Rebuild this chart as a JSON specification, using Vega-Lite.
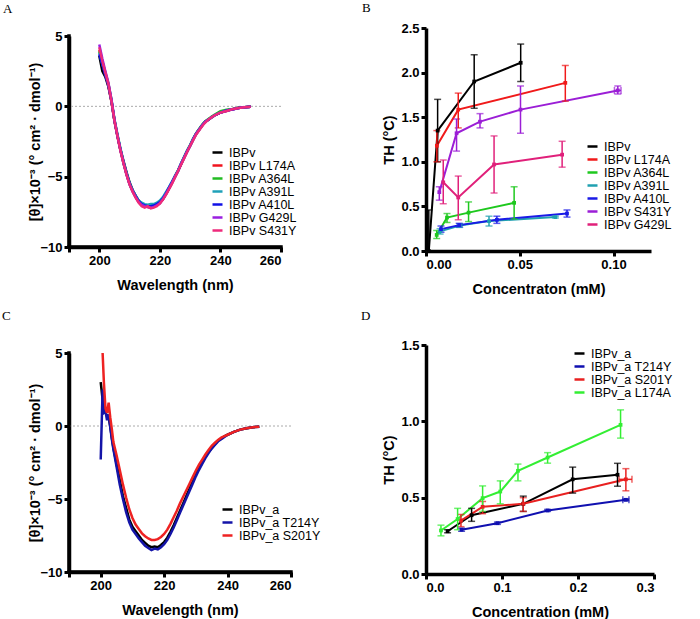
{
"$schema": "https://vega.github.io/schema/vega-lite/v6.json",
"padding": {"left": 2, "top": 2, "right": 0, "bottom": 0},
"config": {
 "view": {"stroke": null},
 "axis": {"domainColor": "black", "domainWidth": 3.5, "tickColor": "black", "tickWidth": 3, "tickSize": 5, "labelFont": "Liberation Sans", "labelFontWeight": "bold", "labelFontSize": 13, "labelColor": "#000", "titleFont": "Liberation Sans", "titleFontWeight": "bold", "titleFontSize": 14.5, "titleColor": "#000", "grid": false, "labelPadding": 2, "titlePadding": 4},
 "axisX": {"titlePadding": 11},
 "legend": {"labelFont": "Liberation Sans", "labelFontSize": 12.5, "labelColor": "#000", "padding": 0, "symbolType": "stroke", "symbolStrokeWidth": 2.5, "symbolSize": 100, "rowPadding": 0, "labelOffset": 5, "title": null},
 "title": {"font": "Liberation Serif", "fontSize": 13, "fontWeight": "normal", "anchor": "start", "frame": "group", "baseline": "alphabetic", "color": "#000"}
},
"datasets": {
 "A": [
  {"w":200,"IBPv":3.6,"IBPv L174A":4.0,"IBPv A364L":3.9,"IBPv A391L":3.8,"IBPv A410L":3.7,"IBPv G429L":4.4,"IBPv S431Y":4.2},
  {"w":201,"IBPv":2.5,"IBPv L174A":3.1,"IBPv A364L":3.2,"IBPv A391L":3.0,"IBPv A410L":3.0,"IBPv G429L":3.4,"IBPv S431Y":3.2},
  {"w":202,"IBPv":2.1,"IBPv L174A":2.3,"IBPv A364L":2.4,"IBPv A391L":2.3,"IBPv A410L":2.2,"IBPv G429L":2.5,"IBPv S431Y":2.4},
  {"w":203,"IBPv":1.4,"IBPv L174A":1.5,"IBPv A364L":1.6,"IBPv A391L":1.6,"IBPv A410L":1.5,"IBPv G429L":1.7,"IBPv S431Y":1.6},
  {"w":204,"IBPv":0.4,"IBPv L174A":0.35,"IBPv A364L":0.45,"IBPv A391L":0.5,"IBPv A410L":0.4,"IBPv G429L":0.5,"IBPv S431Y":0.4},
  {"w":205,"IBPv":-1.0,"IBPv L174A":-1.05,"IBPv A364L":-0.95,"IBPv A391L":-0.9,"IBPv A410L":-1.0,"IBPv G429L":-0.95,"IBPv S431Y":-1.0},
  {"w":206,"IBPv":-2.1,"IBPv L174A":-2.15,"IBPv A364L":-2.05,"IBPv A391L":-2.0,"IBPv A410L":-2.1,"IBPv G429L":-2.1,"IBPv S431Y":-2.1},
  {"w":207,"IBPv":-3.1,"IBPv L174A":-3.15,"IBPv A364L":-3.05,"IBPv A391L":-3.0,"IBPv A410L":-3.1,"IBPv G429L":-3.1,"IBPv S431Y":-3.15},
  {"w":208,"IBPv":-3.9,"IBPv L174A":-4.05,"IBPv A364L":-4.0,"IBPv A391L":-3.95,"IBPv A410L":-4.0,"IBPv G429L":-4.05,"IBPv S431Y":-4.05},
  {"w":209,"IBPv":-4.7,"IBPv L174A":-4.85,"IBPv A364L":-4.8,"IBPv A391L":-4.75,"IBPv A410L":-4.8,"IBPv G429L":-4.85,"IBPv S431Y":-4.85},
  {"w":210,"IBPv":-5.4,"IBPv L174A":-5.55,"IBPv A364L":-5.5,"IBPv A391L":-5.45,"IBPv A410L":-5.5,"IBPv G429L":-5.55,"IBPv S431Y":-5.55},
  {"w":211,"IBPv":-5.95,"IBPv L174A":-6.05,"IBPv A364L":-6.0,"IBPv A391L":-5.95,"IBPv A410L":-6.0,"IBPv G429L":-6.05,"IBPv S431Y":-6.05},
  {"w":212,"IBPv":-6.35,"IBPv L174A":-6.45,"IBPv A364L":-6.4,"IBPv A391L":-6.35,"IBPv A410L":-6.4,"IBPv G429L":-6.45,"IBPv S431Y":-6.5},
  {"w":213,"IBPv":-6.7,"IBPv L174A":-6.8,"IBPv A364L":-6.75,"IBPv A391L":-6.7,"IBPv A410L":-6.75,"IBPv G429L":-6.8,"IBPv S431Y":-6.85},
  {"w":214,"IBPv":-6.95,"IBPv L174A":-7.0,"IBPv A364L":-6.95,"IBPv A391L":-6.85,"IBPv A410L":-6.95,"IBPv G429L":-7.0,"IBPv S431Y":-7.1},
  {"w":215,"IBPv":-7.05,"IBPv L174A":-7.1,"IBPv A364L":-7.05,"IBPv A391L":-6.95,"IBPv A410L":-7.05,"IBPv G429L":-7.1,"IBPv S431Y":-7.2},
  {"w":216,"IBPv":-7.1,"IBPv L174A":-7.15,"IBPv A364L":-7.1,"IBPv A391L":-7.0,"IBPv A410L":-7.1,"IBPv G429L":-7.15,"IBPv S431Y":-7.1},
  {"w":217,"IBPv":-7.15,"IBPv L174A":-7.2,"IBPv A364L":-7.15,"IBPv A391L":-6.95,"IBPv A410L":-7.1,"IBPv G429L":-7.2,"IBPv S431Y":-7.25},
  {"w":218,"IBPv":-7.1,"IBPv L174A":-7.15,"IBPv A364L":-7.1,"IBPv A391L":-6.95,"IBPv A410L":-7.05,"IBPv G429L":-7.15,"IBPv S431Y":-7.2},
  {"w":219,"IBPv":-7.0,"IBPv L174A":-7.05,"IBPv A364L":-7.0,"IBPv A391L":-6.85,"IBPv A410L":-6.95,"IBPv G429L":-7.05,"IBPv S431Y":-7.1},
  {"w":220,"IBPv":-6.85,"IBPv L174A":-6.9,"IBPv A364L":-6.85,"IBPv A391L":-6.7,"IBPv A410L":-6.8,"IBPv G429L":-6.9,"IBPv S431Y":-6.9},
  {"w":221,"IBPv":-6.6,"IBPv L174A":-6.6,"IBPv A364L":-6.55,"IBPv A391L":-6.45,"IBPv A410L":-6.55,"IBPv G429L":-6.6,"IBPv S431Y":-6.65},
  {"w":222,"IBPv":-6.25,"IBPv L174A":-6.25,"IBPv A364L":-6.2,"IBPv A391L":-6.1,"IBPv A410L":-6.2,"IBPv G429L":-6.25,"IBPv S431Y":-6.3},
  {"w":223,"IBPv":-5.85,"IBPv L174A":-5.85,"IBPv A364L":-5.8,"IBPv A391L":-5.75,"IBPv A410L":-5.8,"IBPv G429L":-5.85,"IBPv S431Y":-5.9},
  {"w":224,"IBPv":-5.45,"IBPv L174A":-5.45,"IBPv A364L":-5.4,"IBPv A391L":-5.35,"IBPv A410L":-5.4,"IBPv G429L":-5.45,"IBPv S431Y":-5.5},
  {"w":225,"IBPv":-5.0,"IBPv L174A":-5.0,"IBPv A364L":-4.95,"IBPv A391L":-4.95,"IBPv A410L":-5.0,"IBPv G429L":-5.0,"IBPv S431Y":-5.05},
  {"w":226,"IBPv":-4.6,"IBPv L174A":-4.6,"IBPv A364L":-4.55,"IBPv A391L":-4.55,"IBPv A410L":-4.6,"IBPv G429L":-4.6,"IBPv S431Y":-4.6},
  {"w":227,"IBPv":-4.1,"IBPv L174A":-4.1,"IBPv A364L":-4.1,"IBPv A391L":-4.05,"IBPv A410L":-4.1,"IBPv G429L":-4.1,"IBPv S431Y":-4.15},
  {"w":228,"IBPv":-3.65,"IBPv L174A":-3.65,"IBPv A364L":-3.6,"IBPv A391L":-3.6,"IBPv A410L":-3.65,"IBPv G429L":-3.65,"IBPv S431Y":-3.7},
  {"w":229,"IBPv":-3.2,"IBPv L174A":-3.2,"IBPv A364L":-3.15,"IBPv A391L":-3.15,"IBPv A410L":-3.2,"IBPv G429L":-3.2,"IBPv S431Y":-3.25},
  {"w":230,"IBPv":-2.8,"IBPv L174A":-2.8,"IBPv A364L":-2.75,"IBPv A391L":-2.75,"IBPv A410L":-2.8,"IBPv G429L":-2.8,"IBPv S431Y":-2.8},
  {"w":231,"IBPv":-2.35,"IBPv L174A":-2.35,"IBPv A364L":-2.3,"IBPv A391L":-2.3,"IBPv A410L":-2.35,"IBPv G429L":-2.35,"IBPv S431Y":-2.4},
  {"w":232,"IBPv":-1.95,"IBPv L174A":-1.95,"IBPv A364L":-1.9,"IBPv A391L":-1.95,"IBPv A410L":-1.95,"IBPv G429L":-1.95,"IBPv S431Y":-2.0},
  {"w":233,"IBPv":-1.65,"IBPv L174A":-1.65,"IBPv A364L":-1.6,"IBPv A391L":-1.65,"IBPv A410L":-1.65,"IBPv G429L":-1.65,"IBPv S431Y":-1.7},
  {"w":234,"IBPv":-1.35,"IBPv L174A":-1.35,"IBPv A364L":-1.3,"IBPv A391L":-1.35,"IBPv A410L":-1.35,"IBPv G429L":-1.35,"IBPv S431Y":-1.4},
  {"w":235,"IBPv":-1.1,"IBPv L174A":-1.1,"IBPv A364L":-1.05,"IBPv A391L":-1.1,"IBPv A410L":-1.1,"IBPv G429L":-1.1,"IBPv S431Y":-1.15},
  {"w":236,"IBPv":-0.95,"IBPv L174A":-0.95,"IBPv A364L":-0.9,"IBPv A391L":-0.95,"IBPv A410L":-0.95,"IBPv G429L":-0.95,"IBPv S431Y":-0.95},
  {"w":237,"IBPv":-0.8,"IBPv L174A":-0.8,"IBPv A364L":-0.75,"IBPv A391L":-0.8,"IBPv A410L":-0.8,"IBPv G429L":-0.8,"IBPv S431Y":-0.8},
  {"w":238,"IBPv":-0.65,"IBPv L174A":-0.65,"IBPv A364L":-0.6,"IBPv A391L":-0.65,"IBPv A410L":-0.65,"IBPv G429L":-0.65,"IBPv S431Y":-0.65},
  {"w":240,"IBPv":-0.45,"IBPv L174A":-0.45,"IBPv A364L":-0.35,"IBPv A391L":-0.45,"IBPv A410L":-0.45,"IBPv G429L":-0.45,"IBPv S431Y":-0.45},
  {"w":242,"IBPv":-0.3,"IBPv L174A":-0.33,"IBPv A364L":-0.25,"IBPv A391L":-0.3,"IBPv A410L":-0.3,"IBPv G429L":-0.33,"IBPv S431Y":-0.33},
  {"w":244,"IBPv":-0.2,"IBPv L174A":-0.2,"IBPv A364L":-0.18,"IBPv A391L":-0.2,"IBPv A410L":-0.22,"IBPv G429L":-0.2,"IBPv S431Y":-0.2},
  {"w":246,"IBPv":-0.1,"IBPv L174A":-0.12,"IBPv A364L":-0.1,"IBPv A391L":-0.12,"IBPv A410L":-0.12,"IBPv G429L":-0.12,"IBPv S431Y":-0.12},
  {"w":248,"IBPv":-0.07,"IBPv L174A":-0.07,"IBPv A364L":-0.06,"IBPv A391L":-0.07,"IBPv A410L":-0.07,"IBPv G429L":-0.07,"IBPv S431Y":-0.07},
  {"w":250,"IBPv":-0.03,"IBPv L174A":-0.03,"IBPv A364L":-0.03,"IBPv A391L":-0.03,"IBPv A410L":-0.03,"IBPv G429L":-0.03,"IBPv S431Y":-0.03}
 ],
 "C": [
  {"w":200.0,"IBPv_a":3.0,"IBPv_a T214Y":-2.3,"IBPv_a S201Y":null},
  {"w":200.6,"IBPv_a":1.8,"IBPv_a T214Y":2.5,"IBPv_a S201Y":5.0},
  {"w":201.0,"IBPv_a":1.2,"IBPv_a T214Y":0.9,"IBPv_a S201Y":3.0},
  {"w":201.5,"IBPv_a":0.9,"IBPv_a T214Y":1.0,"IBPv_a S201Y":1.2},
  {"w":202.0,"IBPv_a":0.7,"IBPv_a T214Y":0.4,"IBPv_a S201Y":0.9},
  {"w":202.5,"IBPv_a":0.6,"IBPv_a T214Y":0.8,"IBPv_a S201Y":1.6},
  {"w":203.0,"IBPv_a":0.0,"IBPv_a T214Y":-0.1,"IBPv_a S201Y":0.6},
  {"w":203.5,"IBPv_a":-0.8,"IBPv_a T214Y":-0.9,"IBPv_a S201Y":-0.2},
  {"w":204,"IBPv_a":-1.5,"IBPv_a T214Y":-1.6,"IBPv_a S201Y":-1.1},
  {"w":205,"IBPv_a":-2.6,"IBPv_a T214Y":-2.8,"IBPv_a S201Y":-2.0},
  {"w":206,"IBPv_a":-3.7,"IBPv_a T214Y":-4.0,"IBPv_a S201Y":-3.0},
  {"w":207,"IBPv_a":-4.8,"IBPv_a T214Y":-5.0,"IBPv_a S201Y":-4.0},
  {"w":208,"IBPv_a":-5.6,"IBPv_a T214Y":-5.9,"IBPv_a S201Y":-4.9},
  {"w":209,"IBPv_a":-6.4,"IBPv_a T214Y":-6.6,"IBPv_a S201Y":-5.7},
  {"w":210,"IBPv_a":-6.9,"IBPv_a T214Y":-7.1,"IBPv_a S201Y":-6.3},
  {"w":211,"IBPv_a":-7.2,"IBPv_a T214Y":-7.4,"IBPv_a S201Y":-6.75},
  {"w":212,"IBPv_a":-7.5,"IBPv_a T214Y":-7.7,"IBPv_a S201Y":-7.05},
  {"w":213,"IBPv_a":-7.8,"IBPv_a T214Y":-7.95,"IBPv_a S201Y":-7.35},
  {"w":214,"IBPv_a":-8.0,"IBPv_a T214Y":-8.2,"IBPv_a S201Y":-7.55},
  {"w":215,"IBPv_a":-8.2,"IBPv_a T214Y":-8.35,"IBPv_a S201Y":-7.7},
  {"w":216,"IBPv_a":-8.3,"IBPv_a T214Y":-8.5,"IBPv_a S201Y":-7.8},
  {"w":217,"IBPv_a":-8.25,"IBPv_a T214Y":-8.4,"IBPv_a S201Y":-7.8},
  {"w":218,"IBPv_a":-8.3,"IBPv_a T214Y":-8.45,"IBPv_a S201Y":-7.75},
  {"w":219,"IBPv_a":-8.15,"IBPv_a T214Y":-8.3,"IBPv_a S201Y":-7.6},
  {"w":220,"IBPv_a":-7.95,"IBPv_a T214Y":-8.1,"IBPv_a S201Y":-7.4},
  {"w":221,"IBPv_a":-7.65,"IBPv_a T214Y":-7.8,"IBPv_a S201Y":-7.1},
  {"w":222,"IBPv_a":-7.25,"IBPv_a T214Y":-7.4,"IBPv_a S201Y":-6.7},
  {"w":223,"IBPv_a":-6.8,"IBPv_a T214Y":-6.95,"IBPv_a S201Y":-6.25},
  {"w":224,"IBPv_a":-6.3,"IBPv_a T214Y":-6.45,"IBPv_a S201Y":-5.8},
  {"w":225,"IBPv_a":-5.8,"IBPv_a T214Y":-5.95,"IBPv_a S201Y":-5.3},
  {"w":226,"IBPv_a":-5.3,"IBPv_a T214Y":-5.45,"IBPv_a S201Y":-4.85},
  {"w":227,"IBPv_a":-4.8,"IBPv_a T214Y":-4.95,"IBPv_a S201Y":-4.4},
  {"w":228,"IBPv_a":-4.3,"IBPv_a T214Y":-4.45,"IBPv_a S201Y":-3.95},
  {"w":229,"IBPv_a":-3.8,"IBPv_a T214Y":-3.95,"IBPv_a S201Y":-3.5},
  {"w":230,"IBPv_a":-3.3,"IBPv_a T214Y":-3.45,"IBPv_a S201Y":-3.05},
  {"w":231,"IBPv_a":-2.9,"IBPv_a T214Y":-3.0,"IBPv_a S201Y":-2.65},
  {"w":232,"IBPv_a":-2.5,"IBPv_a T214Y":-2.6,"IBPv_a S201Y":-2.3},
  {"w":233,"IBPv_a":-2.1,"IBPv_a T214Y":-2.2,"IBPv_a S201Y":-1.95},
  {"w":234,"IBPv_a":-1.8,"IBPv_a T214Y":-1.85,"IBPv_a S201Y":-1.65},
  {"w":235,"IBPv_a":-1.5,"IBPv_a T214Y":-1.55,"IBPv_a S201Y":-1.35},
  {"w":236,"IBPv_a":-1.25,"IBPv_a T214Y":-1.3,"IBPv_a S201Y":-1.15},
  {"w":237,"IBPv_a":-1.0,"IBPv_a T214Y":-1.05,"IBPv_a S201Y":-0.95},
  {"w":238,"IBPv_a":-0.85,"IBPv_a T214Y":-0.9,"IBPv_a S201Y":-0.8},
  {"w":239,"IBPv_a":-0.7,"IBPv_a T214Y":-0.75,"IBPv_a S201Y":-0.7},
  {"w":240,"IBPv_a":-0.6,"IBPv_a T214Y":-0.6,"IBPv_a S201Y":-0.6},
  {"w":242,"IBPv_a":-0.4,"IBPv_a T214Y":-0.4,"IBPv_a S201Y":-0.4},
  {"w":244,"IBPv_a":-0.25,"IBPv_a T214Y":-0.25,"IBPv_a S201Y":-0.25},
  {"w":246,"IBPv_a":-0.15,"IBPv_a T214Y":-0.15,"IBPv_a S201Y":-0.15},
  {"w":248,"IBPv_a":-0.08,"IBPv_a T214Y":-0.08,"IBPv_a S201Y":-0.08},
  {"w":250,"IBPv_a":-0.05,"IBPv_a T214Y":-0.05,"IBPv_a S201Y":-0.05}
 ],
 "B": [
  {"s":"IBPv","c":0.0015,"v":0,"lo":0,"hi":0.46},
  {"s":"IBPv","c":0.0062,"v":1.35,"lo":1.0,"hi":1.7},
  {"s":"IBPv","c":0.0257,"v":1.9,"lo":1.6,"hi":2.2},
  {"s":"IBPv","c":0.0505,"v":2.11,"lo":1.9,"hi":2.32},
  {"s":"IBPv L174A","c":0.0058,"v":1.18,"lo":1.0,"hi":1.35},
  {"s":"IBPv L174A","c":0.0172,"v":1.585,"lo":1.38,"hi":1.77},
  {"s":"IBPv L174A","c":0.0743,"v":1.885,"lo":1.68,"hi":2.08},
  {"s":"IBPv A364L","c":0.0057,"v":0.18,"lo":0.14,"hi":0.23},
  {"s":"IBPv A364L","c":0.0112,"v":0.375,"lo":0.32,"hi":0.42},
  {"s":"IBPv A364L","c":0.0227,"v":0.43,"lo":0.33,"hi":0.55},
  {"s":"IBPv A364L","c":0.047,"v":0.54,"lo":0.36,"hi":0.72},
  {"s":"IBPv A391L","c":0.0075,"v":0.22,"lo":0.19,"hi":0.25},
  {"s":"IBPv A391L","c":0.018,"v":0.285,"lo":0.265,"hi":0.305},
  {"s":"IBPv A391L","c":0.0336,"v":0.335,"lo":0.28,"hi":0.39},
  {"s":"IBPv A391L","c":0.069,"v":0.38,"lo":0.37,"hi":0.39},
  {"s":"IBPv A410L","c":0.008,"v":0.245,"lo":0.21,"hi":0.28},
  {"s":"IBPv A410L","c":0.0177,"v":0.29,"lo":0.27,"hi":0.31},
  {"s":"IBPv A410L","c":0.0378,"v":0.35,"lo":0.31,"hi":0.39},
  {"s":"IBPv A410L","c":0.0752,"v":0.42,"lo":0.38,"hi":0.46},
  {"s":"IBPv S431Y","c":0.0071,"v":0.66,"lo":0.57,"hi":0.72},
  {"s":"IBPv S431Y","c":0.0163,"v":1.32,"lo":1.12,"hi":1.48},
  {"s":"IBPv S431Y","c":0.0288,"v":1.45,"lo":1.38,"hi":1.54},
  {"s":"IBPv S431Y","c":0.0504,"v":1.585,"lo":1.32,"hi":1.85},
  {"s":"IBPv S431Y","c":0.1023,"v":1.8,"lo":1.76,"hi":1.85},
  {"s":"IBPv G429L","c":0.0092,"v":0.77,"lo":0.53,"hi":1.02},
  {"s":"IBPv G429L","c":0.0172,"v":0.6,"lo":0.35,"hi":0.84},
  {"s":"IBPv G429L","c":0.0363,"v":0.97,"lo":0.65,"hi":1.29},
  {"s":"IBPv G429L","c":0.0726,"v":1.08,"lo":0.94,"hi":1.23}
 ],
 "BX": [
  {"s":"IBPv S431Y","v":1.8,"xlo":0.1005,"xhi":0.104}
 ],
 "D": [
  {"s":"IBPv_a","c":0.0284,"v":0.28,"lo":0.27,"hi":0.29},
  {"s":"IBPv_a","c":0.06,"v":0.385,"lo":0.345,"hi":0.43},
  {"s":"IBPv_a","c":0.128,"v":0.46,"lo":0.41,"hi":0.51},
  {"s":"IBPv_a","c":0.193,"v":0.62,"lo":0.53,"hi":0.7},
  {"s":"IBPv_a","c":0.252,"v":0.65,"lo":0.575,"hi":0.725},
  {"s":"IBPv_a T214Y","c":0.0468,"v":0.29,"lo":0.28,"hi":0.3},
  {"s":"IBPv_a T214Y","c":0.094,"v":0.333,"lo":0.325,"hi":0.34},
  {"s":"IBPv_a T214Y","c":0.16,"v":0.416,"lo":0.41,"hi":0.423},
  {"s":"IBPv_a T214Y","c":0.263,"v":0.486,"lo":0.48,"hi":0.492},
  {"s":"IBPv_a S201Y","c":0.046,"v":0.35,"lo":0.31,"hi":0.39},
  {"s":"IBPv_a S201Y","c":0.0745,"v":0.44,"lo":0.395,"hi":0.475},
  {"s":"IBPv_a S201Y","c":0.128,"v":0.46,"lo":0.41,"hi":0.5},
  {"s":"IBPv_a S201Y","c":0.263,"v":0.62,"lo":0.545,"hi":0.69},
  {"s":"IBPv_a L174A","c":0.0197,"v":0.285,"lo":0.25,"hi":0.32},
  {"s":"IBPv_a L174A","c":0.0416,"v":0.36,"lo":0.29,"hi":0.43},
  {"s":"IBPv_a L174A","c":0.0745,"v":0.497,"lo":0.41,"hi":0.577},
  {"s":"IBPv_a L174A","c":0.0977,"v":0.54,"lo":0.46,"hi":0.61},
  {"s":"IBPv_a L174A","c":0.121,"v":0.676,"lo":0.61,"hi":0.72},
  {"s":"IBPv_a L174A","c":0.16,"v":0.763,"lo":0.726,"hi":0.795},
  {"s":"IBPv_a L174A","c":0.256,"v":0.977,"lo":0.89,"hi":1.075}
 ],
 "DX": [
  {"s":"IBPv_a T214Y","v":0.486,"xlo":0.259,"xhi":0.267},
  {"s":"IBPv_a S201Y","v":0.62,"xlo":0.254,"xhi":0.271}
 ]
},
"resolve": {"scale": {"color": "independent"}, "legend": {"color": "independent"}},
"spacing": 40,
"hconcat": [
 {
  "spacing": 1,
  "resolve": {"scale": {"color": "independent"}, "legend": {"color": "independent"}},
  "vconcat": [
   {
    "width": 212, "height": 1,
    "title": {"text": "A", "dx": -66, "offset": 12},
    "data": {"values": []},
    "mark": "point"
   },
   {
    "spacing": 18,
    "resolve": {"scale": {"color": "independent"}, "legend": {"color": "independent"}},
    "vconcat": [
     {
      "width": 212, "height": 211,
      "layer": [
       {"data": {"values": [{}]}, "mark": {"type": "rule", "strokeDash": [2, 2], "color": "#aaaaaa", "strokeWidth": 1}, "encoding": {"y": {"datum": 0, "type": "quantitative"}}},
       {
        "data": {"name": "A"},
        "transform": [{"fold": ["IBPv", "IBPv L174A", "IBPv A364L", "IBPv A391L", "IBPv A410L", "IBPv G429L", "IBPv S431Y"], "as": ["s", "v"]}],
        "mark": {"type": "line", "strokeWidth": 2.5},
        "encoding": {
         "x": {"field": "w", "type": "quantitative", "scale": {"domain": [190, 260], "nice": false, "zero": false}, "axis": {"values": [190, 200, 220, 240, 260], "labelExpr": "datum.value == 190 ? '' : datum.label", "title": "Wavelength (nm)"}},
         "y": {"field": "v", "type": "quantitative", "scale": {"domain": [-10, 5], "nice": false}, "axis": {"values": [-10, -5, 0, 5], "titlePadding": -3, "title": "[\u03b8]\u00d710\u207b\u00b3 (\u00b0 cm\u00b2 \u00b7 dmol\u207b\u00b9)"}},
         "color": {"field": "s", "type": "nominal", "scale": {"domain": ["IBPv", "IBPv L174A", "IBPv A364L", "IBPv A391L", "IBPv A410L", "IBPv G429L", "IBPv S431Y"], "range": ["#000000", "#f0141e", "#22bb22", "#1fa0b8", "#1010e6", "#9a1fe0", "#ee2a7b"]}, "legend": {"orient": "none", "legendX": 142, "legendY": 110}}
        }
       },
       {"data": {"values": [{}]}, "mark": {"type": "rule", "color": "black", "strokeWidth": 3.5, "strokeCap": "square"}, "encoding": {"x": {"datum": 190, "type": "quantitative"}, "y": {"datum": -10, "type": "quantitative"}, "y2": {"datum": 5}}},
       {"data": {"values": [{}]}, "mark": {"type": "rule", "color": "black", "strokeWidth": 3.5, "strokeCap": "square"}, "encoding": {"y": {"datum": -10, "type": "quantitative"}, "x": {"datum": 190, "type": "quantitative"}, "x2": {"datum": 260}}}
      ]
     },
     {
      "width": 222, "height": 219,
      "title": {"text": "C", "dx": -67, "offset": 24},
      "layer": [
       {"data": {"values": [{}]}, "mark": {"type": "rule", "strokeDash": [2, 2], "color": "#aaaaaa", "strokeWidth": 1}, "encoding": {"y": {"datum": 0, "type": "quantitative"}}},
       {
        "data": {"name": "C"},
        "transform": [{"fold": ["IBPv_a", "IBPv_a T214Y", "IBPv_a S201Y"], "as": ["s", "v"]}],
        "mark": {"type": "line", "strokeWidth": 2.5},
        "encoding": {
         "x": {"field": "w", "type": "quantitative", "scale": {"domain": [190, 260], "nice": false, "zero": false}, "axis": {"values": [190, 200, 220, 240, 260], "labelExpr": "datum.value == 190 ? '' : datum.label", "title": "Wavelength (nm)"}},
         "y": {"field": "v", "type": "quantitative", "scale": {"domain": [-10, 5], "nice": false}, "axis": {"values": [-10, -5, 0, 5], "titlePadding": -3, "title": "[\u03b8]\u00d710\u207b\u00b3 (\u00b0 cm\u00b2 \u00b7 dmol\u207b\u00b9)"}},
         "color": {"field": "s", "type": "nominal", "scale": {"domain": ["IBPv_a", "IBPv_a T214Y", "IBPv_a S201Y"], "range": ["#000000", "#1414a8", "#ee2222"]}, "legend": {"orient": "none", "legendX": 152, "legendY": 150}}
        }
       },
       {"data": {"values": [{}]}, "mark": {"type": "rule", "color": "black", "strokeWidth": 3.5, "strokeCap": "square"}, "encoding": {"x": {"datum": 190, "type": "quantitative"}, "y": {"datum": -10, "type": "quantitative"}, "y2": {"datum": 5}}},
       {"data": {"values": [{}]}, "mark": {"type": "rule", "color": "black", "strokeWidth": 3.5, "strokeCap": "square"}, "encoding": {"y": {"datum": -10, "type": "quantitative"}, "x": {"datum": 190, "type": "quantitative"}, "x2": {"datum": 260}}}
      ]
     }
    ]
   }
  ]
 },
 {
  "spacing": 14,
  "resolve": {"scale": {"color": "independent"}, "legend": {"color": "independent"}},
  "vconcat": [
   {
    "width": 225, "height": 223,
    "title": {"text": "B", "dx": -64, "offset": 7},
    "encoding": {
     "x": {"field": "c", "type": "quantitative", "scale": {"domain": [0, 0.12], "nice": false}, "axis": {"values": [0, 0.05, 0.1], "format": ".2f"}, "title": "Concentraton (mM)"},
     "y": {"field": "v", "type": "quantitative", "scale": {"domain": [0, 2.5], "nice": false}, "axis": {"values": [0, 0.5, 1, 1.5, 2, 2.5], "format": ".1f"}, "title": "TH (\u00b0C)"}
    },
    "layer": [
     {"data": {"name": "B"}, "mark": {"type": "line", "strokeWidth": 2},
      "encoding": {"color": {"field": "s", "type": "nominal", "scale": {"domain": ["IBPv", "IBPv L174A", "IBPv A364L", "IBPv A391L", "IBPv A410L", "IBPv S431Y", "IBPv G429L"], "range": ["#000000", "#f01a1a", "#1ec81e", "#20a0b0", "#1a1ae6", "#9b1ed6", "#e0207a"]}, "legend": {"orient": "none", "legendX": 160, "legendY": 112}}}},
     {"data": {"name": "B"}, "mark": {"type": "errorbar", "ticks": {"size": 7}, "thickness": 1.5},
      "encoding": {"y": {"field": "lo", "type": "quantitative", "title": "TH (\u00b0C)"}, "y2": {"field": "hi"}, "color": {"field": "s", "type": "nominal", "legend": null}}},
     {"data": {"name": "BX"}, "mark": {"type": "errorbar", "ticks": {"size": 7}, "thickness": 1.5},
      "encoding": {"x": {"field": "xlo", "type": "quantitative", "title": "Concentraton (mM)"}, "x2": {"field": "xhi"}, "color": {"field": "s", "type": "nominal", "legend": null}}},
     {"data": {"name": "B"}, "mark": {"type": "point", "filled": true, "shape": "square", "size": 14, "opacity": 1},
      "encoding": {"color": {"field": "s", "type": "nominal", "legend": null}}},
     {"data": {"values": [{}]}, "mark": {"type": "rule", "color": "black", "strokeWidth": 3.5, "strokeCap": "square"}, "encoding": {"x": {"datum": 0, "type": "quantitative"}, "y": {"datum": 0, "type": "quantitative"}, "y2": {"datum": 2.5}}},
     {"data": {"values": [{}]}, "mark": {"type": "rule", "color": "black", "strokeWidth": 3.5, "strokeCap": "square"}, "encoding": {"y": {"datum": 0, "type": "quantitative"}, "x": {"datum": 0, "type": "quantitative"}, "x2": {"datum": 0.12}}}
    ]
   },
   {
    "width": 228, "height": 229,
    "title": {"text": "D", "dx": -65, "offset": 16},
    "encoding": {
     "x": {"field": "c", "type": "quantitative", "scale": {"domain": [0, 0.3], "nice": false}, "axis": {"values": [0, 0.1, 0.2, 0.3], "format": ".1f"}, "title": "Concentration (mM)"},
     "y": {"field": "v", "type": "quantitative", "scale": {"domain": [0, 1.5], "nice": false}, "axis": {"values": [0, 0.5, 1, 1.5], "format": ".1f"}, "title": "TH (\u00b0C)"}
    },
    "layer": [
     {"data": {"name": "D"}, "mark": {"type": "line", "strokeWidth": 2},
      "encoding": {"color": {"field": "s", "type": "nominal", "scale": {"domain": ["IBPv_a", "IBPv_a T214Y", "IBPv_a S201Y", "IBPv_a L174A"], "range": ["#000000", "#1010b0", "#e82020", "#33ee33"]}, "legend": {"orient": "none", "legendX": 147, "legendY": 2}}}},
     {"data": {"name": "D"}, "mark": {"type": "errorbar", "ticks": {"size": 7}, "thickness": 1.5},
      "encoding": {"y": {"field": "lo", "type": "quantitative", "title": "TH (\u00b0C)"}, "y2": {"field": "hi"}, "color": {"field": "s", "type": "nominal", "legend": null}}},
     {"data": {"name": "DX"}, "mark": {"type": "errorbar", "ticks": {"size": 7}, "thickness": 1.5},
      "encoding": {"x": {"field": "xlo", "type": "quantitative", "title": "Concentration (mM)"}, "x2": {"field": "xhi"}, "color": {"field": "s", "type": "nominal", "legend": null}}},
     {"data": {"name": "D"}, "mark": {"type": "point", "filled": true, "shape": "square", "size": 14, "opacity": 1},
      "encoding": {"color": {"field": "s", "type": "nominal", "legend": null}}},
     {"data": {"values": [{}]}, "mark": {"type": "rule", "color": "black", "strokeWidth": 3.5, "strokeCap": "square"}, "encoding": {"x": {"datum": 0, "type": "quantitative"}, "y": {"datum": 0, "type": "quantitative"}, "y2": {"datum": 1.5}}},
     {"data": {"values": [{}]}, "mark": {"type": "rule", "color": "black", "strokeWidth": 3.5, "strokeCap": "square"}, "encoding": {"y": {"datum": 0, "type": "quantitative"}, "x": {"datum": 0, "type": "quantitative"}, "x2": {"datum": 0.3}}}
    ]
   }
  ]
 }
]
}
